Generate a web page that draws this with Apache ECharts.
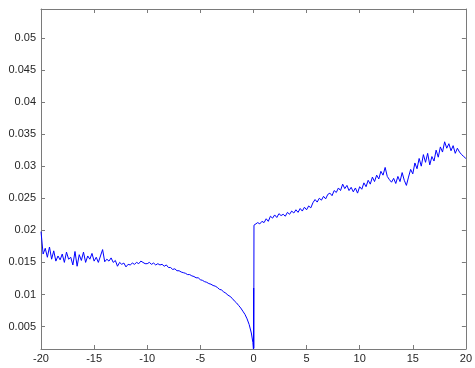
<!DOCTYPE html>
<html>
<head>
<meta charset="utf-8">
<script src="https://cdn.jsdelivr.net/npm/echarts@6/dist/echarts.min.js"></script>
<style>html,body{margin:0;padding:0;background:#fff}#c{width:475px;height:368px}</style>
</head>
<body>
<div id="c"></div>
<script>
// x positions (left branch: -20 .. -0.2 step 0.2, then the drop at 0, then right branch 0.2 .. 20)
var leftY = [
0.0198,0.0163,0.0172,0.0158,0.0174,0.0155,0.0168,0.0152,0.0160,0.0154,
0.0163,0.0150,0.0166,0.0155,0.0158,0.0146,0.0167,0.0144,0.0162,0.0153,
0.0166,0.0150,0.0160,0.0155,0.0164,0.0152,0.0158,0.0150,0.0160,0.0170,
0.0151,0.0155,0.0152,0.0157,0.0150,0.0153,0.0144,0.0150,0.0147,0.0149,
0.0143,0.0147,0.0146,0.0149,0.0147,0.0150,0.0148,0.0152,0.0150,0.0148,
0.0148,0.0150,0.0147,0.0149,0.0146,0.0148,0.0146,0.0147,0.0144,0.0146,
0.0142,0.0142,0.0139,0.0140,0.0137,0.0137,0.0135,0.0134,0.0133,0.0131,
0.0131,0.0129,0.0128,0.0126,0.0126,0.0123,0.0122,0.0120,0.0119,0.0117,
0.0116,0.0114,0.0113,0.0111,0.0108,0.0107,0.0104,0.0102,0.0099,0.0097,
0.0094,0.0090,0.0087,0.0083,0.0079,0.0074,0.0069,0.0062,0.0053,0.0040
];
var jumpX = [-0.05, 0, 0.02, 0.03, 0.05];
var jumpY = [0.0025, 0.0015, 0.0110, 0.0016, 0.0208];
var rightY = [
0.0209,0.0212,0.0210,0.0214,0.0212,0.0218,0.0214,0.0222,0.0219,0.0224,
0.0220,0.0226,0.0223,0.0225,0.0222,0.0228,0.0225,0.0230,0.0227,0.0232,
0.0228,0.0234,0.0230,0.0236,0.0232,0.0238,0.0235,0.0243,0.0248,0.0244,
0.0250,0.0247,0.0253,0.0249,0.0256,0.0258,0.0254,0.0262,0.0259,0.0266,
0.0262,0.0272,0.0265,0.0270,0.0262,0.0267,0.0260,0.0266,0.0258,0.0268,
0.0264,0.0274,0.0268,0.0278,0.0272,0.0283,0.0276,0.0286,0.0280,0.0292,
0.0286,0.0298,0.0284,0.0279,0.0275,0.0281,0.0273,0.0284,0.0276,0.0290,
0.0278,0.0270,0.0283,0.0295,0.0288,0.0305,0.0296,0.0312,0.0300,0.0318,
0.0306,0.0320,0.0302,0.0315,0.0308,0.0325,0.0314,0.0330,0.0322,0.0338,
0.0328,0.0335,0.0324,0.0332,0.0320,0.0328,0.0322,0.0318,0.0315,0.0312
];
var xTicks = [-20,-15,-10,-5,0,5,10,15,20];
var yTicks = [0.005,0.01,0.015,0.02,0.025,0.03,0.035,0.04,0.045,0.05];

var pts = [];
for (var i = 0; i < leftY.length; i++) pts.push([+(-20 + 0.2 * i).toFixed(2), leftY[i]]);
for (var j = 0; j < jumpX.length; j++) pts.push([jumpX[j], jumpY[j]]);
for (var k = 0; k < rightY.length; k++) pts.push([+(0.2 + 0.2 * k).toFixed(2), rightY[k]]);

var axisCol = '#7a7a7a';
var font = {fontFamily: 'Liberation Sans, Arial, sans-serif', fontSize: 11, color: '#262626'};
var chart = echarts.init(document.getElementById('c'));
var yMin = 0.0015, yMax = 0.0545;
function line() { return {show: true, onZero: false, lineStyle: {color: axisCol, width: 1}}; }
chart.setOption({
  animation: false,
  backgroundColor: '#fff',
  grid: {left: 41, right: 6, top: 9, bottom: 19, containLabel: false},
  xAxis: [
    {type: 'value', min: -20, max: 20, interval: 5, position: 'bottom',
     axisLine: line(),
     axisTick: {inside: true, length: 4, lineStyle: {color: axisCol}, customValues: xTicks},
     axisLabel: Object.assign({margin: 4, customValues: xTicks}, font),
     splitLine: {show: false}},
    {type: 'value', min: -20, max: 20, interval: 5, position: 'top',
     axisLine: line(),
     axisTick: {inside: true, length: 4, lineStyle: {color: axisCol}, customValues: xTicks},
     axisLabel: {show: false}, splitLine: {show: false}}
  ],
  yAxis: [
    {type: 'value', min: yMin, max: yMax, splitNumber: 10, position: 'left',
     axisLine: line(),
     axisTick: {inside: true, length: 4, lineStyle: {color: axisCol}, customValues: yTicks},
     axisLabel: Object.assign({margin: 5, customValues: yTicks}, font),
     splitLine: {show: false}},
    {type: 'value', min: yMin, max: yMax, splitNumber: 10, position: 'right',
     axisLine: line(),
     axisTick: {inside: true, length: 4, lineStyle: {color: axisCol}, customValues: yTicks},
     axisLabel: {show: false}, splitLine: {show: false}}
  ],
  series: [{
    type: 'line', data: pts, xAxisIndex: 0, yAxisIndex: 0,
    showSymbol: false, symbol: 'none',
    lineStyle: {color: '#0000ff', width: 1}
  }]
});
</script>
</body>
</html>
